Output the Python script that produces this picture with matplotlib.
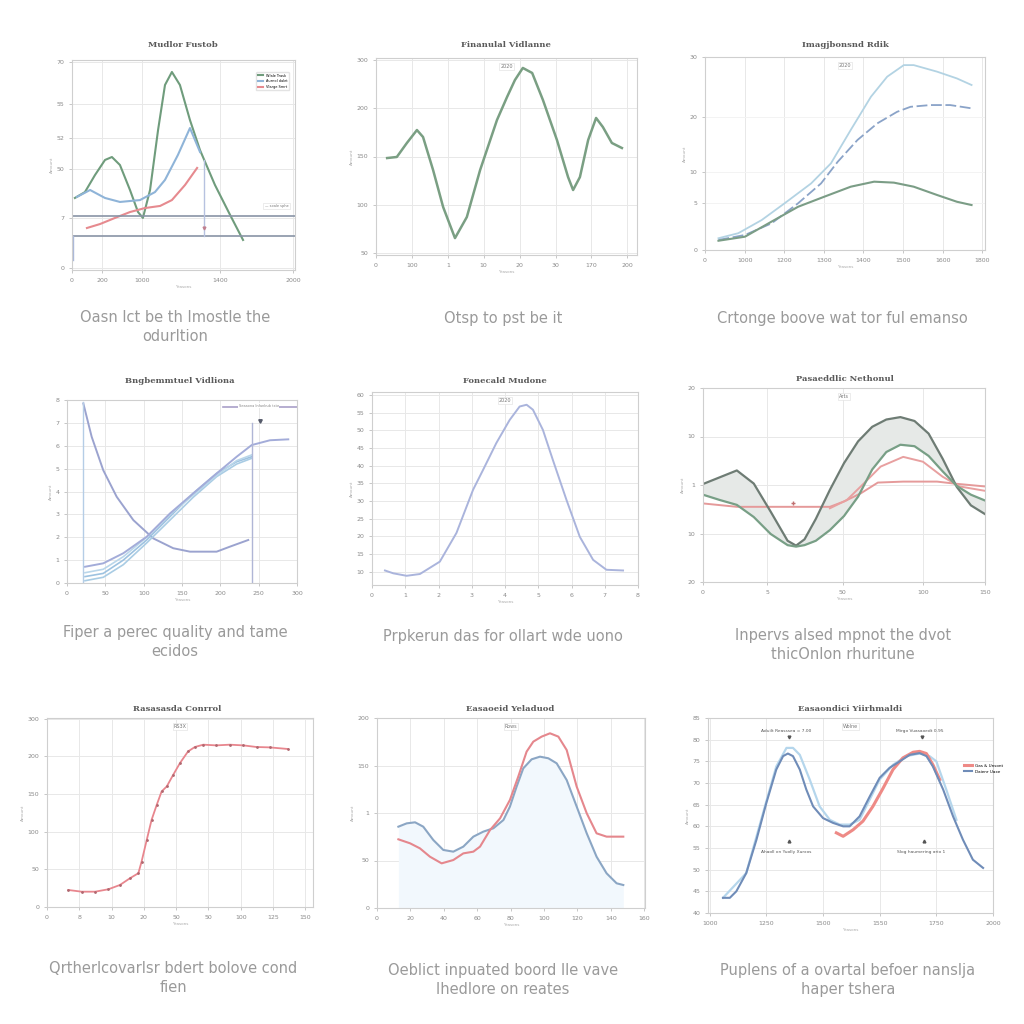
import matplotlib.pyplot as plt
import numpy as np

# ---------- data ----------
# panel 1
p1_green_x = [1.3, 5.8, 10.3, 14.8, 17.9, 21.5, 26.0, 29.6, 31.8, 35.0, 38.6, 41.7, 44.8, 48.4, 52.9, 57.4, 64.1, 70.9, 76.7]
p1_green_y = [34.3, 37.1, 45.2, 52.4, 53.8, 50.0, 38.1, 27.6, 24.8, 38.1, 66.7, 88.1, 94.3, 88.1, 71.4, 57.1, 40.5, 26.2, 14.3]
p1_blue_x = [2.2, 8.1, 14.8, 21.5, 30.5, 37.2, 41.7, 47.5, 52.9, 57.4]
p1_blue_y = [34.8, 38.1, 34.3, 32.4, 33.3, 37.1, 42.9, 54.8, 67.6, 56.2]
p1_red_x = [6.7, 12.6, 19.3, 26.0, 32.7, 39.5, 44.8, 50.7, 56.1]
p1_red_y = [20.0, 21.9, 24.8, 27.6, 29.5, 30.5, 33.3, 40.5, 48.6]
p1_hlines = [25.7, 16.2]
p1_yticks = [1, 25, 48, 63, 79, 99]
p1_ylabels = ['0', '7', '50', '52', '55', '70']
p1_xticks = [0, 13.5, 31.4, 66.4, 99.1]
p1_xlabels = ['0', '200', '1000', '1400', '2000']

# panel 2
p2_x = [0.31, 0.58, 0.86, 1.14, 1.31, 1.59, 1.87, 2.20, 2.53, 2.90, 3.37, 3.65, 3.87, 4.09, 4.35, 4.65,
        5.04, 5.35, 5.49, 5.68, 5.91, 6.13, 6.32, 6.57, 6.85]
p2_y = [148.4, 149.5, 164.0, 177.4, 170.2, 136.0, 97.7, 65.5, 87.3, 136.0, 187.8, 211.6, 229.2, 241.7, 236.5,
        208.5, 167.1, 128.7, 115.3, 128.7, 167.1, 189.9, 180.5, 164.0, 158.8]
p2_xlabels = ['0', '100', '1', '10', '20', '30', '170', '200']
p2_ylabels = ['50', '100', '150', '200', '300']

# panel 3
p3_top_x = [0.34, 0.84, 1.43, 2.01, 2.68, 3.18, 3.68, 4.19, 4.60, 5.02, 5.27, 5.86, 6.36, 6.73]
p3_top_y = [6.1, 8.7, 15.5, 24.2, 34.5, 44.9, 62.2, 79.4, 89.8, 95.8, 95.8, 92.4, 88.9, 85.5]
p3_mid_x = [0.34, 1.01, 1.68, 2.35, 2.93, 3.35, 3.85, 4.35, 4.85, 5.19, 5.69, 6.19, 6.73]
p3_mid_y = [5.2, 7.8, 13.8, 24.2, 34.5, 45.7, 57.0, 65.6, 71.6, 74.2, 75.1, 75.1, 73.4]
p3_low_x = [0.34, 1.01, 1.68, 2.35, 3.01, 3.68, 4.27, 4.77, 5.27, 5.86, 6.36, 6.73]
p3_low_y = [4.8, 6.9, 14.7, 22.4, 27.6, 32.8, 35.4, 34.9, 32.8, 28.5, 25.0, 23.3]
p3_yticks = [0, 24.4, 40.4, 68.9, 100]
p3_ylabels = ['0', '5', '10', '20', '30']
p3_xlabels = ['0', '1000', '1200', '1300', '1400', '1500', '1600', '1800']

# panel 4
p4_decay_x = [21.3, 32.2, 47.3, 64.8, 86.5, 112.5, 138.6, 160.4, 195.2, 212.6, 236.4]
p4_decay_y = [7.85, 6.39, 4.93, 3.77, 2.75, 1.95, 1.52, 1.37, 1.37, 1.59, 1.88]
p4_rise_x = [23.5, 47.3, 73.4, 103.9, 134.3, 164.7, 195.2, 221.3, 240.9, 264.7, 288.6]
p4_rise_a = [0.71, 0.86, 1.30, 2.02, 3.04, 3.92, 4.79, 5.52, 6.03, 6.24, 6.28]
p4_rise_b = [0.28, 0.42, 1.00, 1.88, 2.90, 3.92, 4.79, 5.30, 5.52]
p4_rise_c = [0.10, 0.25, 0.80, 1.75, 2.75, 3.75, 4.65, 5.20, 5.45]
p4_rise_d = [0.45, 0.60, 1.15, 2.00, 3.00, 3.85, 4.70, 5.35, 5.60]

# panel 5
p5_x = [0.39, 0.64, 1.04, 1.44, 2.04, 2.54, 3.04, 3.34, 3.74, 4.14, 4.44, 4.65, 4.84, 5.14, 5.44, 5.85,
        6.25, 6.65, 7.05, 7.55]
p5_y = [10.4, 9.6, 8.9, 9.4, 12.9, 21.0, 33.2, 38.8, 46.4, 52.9, 56.7, 57.2, 55.8, 50.1, 41.6, 30.3,
        19.9, 13.4, 10.6, 10.4]

# panel 6
p6_x = [0, 6, 12, 18, 24, 30, 33, 36, 40, 45, 50, 55, 60, 65, 70, 75, 80, 85, 90, 95, 100]
p6_upper = [0.2, 1.6, 3.0, 0.3, -5.5, -11.5, -12.5, -11.2, -7.0, -1.0, 4.5, 9.0, 12.0, 13.5, 14.0, 13.2,
            10.6, 5.4, -0.4, -4.2, -6.0]
p6_lower = [-2.0, -3.1, -4.1, -6.6, -10.1, -12.4, -12.7, -12.4, -11.5, -9.3, -6.4, -2.4, 3.2, 6.8, 8.3, 8.0,
            6.0, 2.8, -0.2, -2.0, -3.2]
p6_flat_x = [0, 12, 24, 36, 45, 50, 56, 62, 71, 83, 89, 100]
p6_flat_y = [-3.8, -4.5, -4.5, -4.5, -4.5, -3.4, -1.7, 0.5, 0.7, 0.7, 0.3, -0.3]
p6_arc_x = [45, 51, 57, 63, 71, 78, 85, 91, 100]
p6_arc_y = [-4.8, -3.1, 0.3, 3.8, 5.8, 4.8, 1.7, -0.3, -1.2]
p6_xticks = [0, 22.7, 49.6, 78, 100]
p6_xlabels = ['0', '5', '50', '100', '150']

# panel 7
p7_x = [0.66, 1.07, 1.49, 1.90, 2.26, 2.57, 2.83, 2.93, 3.09, 3.24, 3.40, 3.55, 3.71, 3.91, 4.12, 4.37,
        4.58, 4.84, 5.25, 5.66, 6.08, 6.49, 6.90, 7.47]
p7_y = [27.1, 24.4, 24.4, 28.2, 35.1, 45.8, 53.8, 72.3, 106.9, 138.8, 162.8, 184.0, 192.0, 210.6, 229.3,
        247.8, 254.8, 258.5, 257.4, 258.5, 257.4, 254.8, 254.2, 251.6]
p7_xlabels = ['0', '8', '10', '20', '50', '50', '100', '125', '150']
p7_ylabels = ['0', '50', '100', '150', '200', '300']

# panel 8
p8_blue_x = [12.8, 17.8, 22.8, 27.7, 33.7, 39.7, 45.7, 51.7, 57.7, 63.7, 69.7, 75.7, 79.6, 83.6, 87.6, 92.6,
             97.6, 102.6, 107.6, 113.6, 119.6, 125.6, 131.5, 137.5, 143.5, 147.5]
p8_blue_y = [85.6, 89.1, 90.2, 85.6, 71.6, 61.1, 59.3, 64.6, 75.1, 80.4, 83.9, 92.6, 106.7, 127.7, 147.0,
             156.5, 159.3, 157.6, 152.3, 134.7, 106.7, 78.6, 54.0, 36.5, 26.0, 24.2]
p8_red_x = [12.8, 19.8, 25.7, 31.7, 38.7, 45.7, 51.7, 57.7, 61.7, 67.7, 73.7, 79.6, 84.6, 89.6, 93.6, 98.6,
            103.6, 108.6, 113.6, 119.6, 125.6, 131.5, 137.5, 147.5]
p8_red_y = [72.3, 68.1, 62.8, 54.0, 47.0, 50.5, 57.5, 59.3, 64.6, 82.1, 94.4, 113.7, 138.3, 164.6, 175.1,
            180.4, 183.9, 180.4, 166.3, 127.7, 99.7, 78.6, 75.1, 75.1]
p8_ylabels = ['0', '50', '1', '150', '200']

# panel 9
p9_blue_x = [1047, 1071, 1094, 1129, 1165, 1200, 1235, 1259, 1276, 1294, 1318, 1341, 1365, 1400, 1435, 1471,
             1494, 1529, 1565, 1600, 1635, 1671, 1706, 1741, 1765, 1788, 1824, 1859, 1894, 1929, 1965]
p9_blue_y = [43.5, 43.5, 45.0, 49.2, 56.9, 65.4, 73.1, 76.2, 76.8, 76.2, 73.1, 68.5, 64.6, 61.9, 60.8, 60.0,
             60.0, 62.3, 66.9, 71.2, 73.5, 75.0, 76.5, 76.9, 76.2, 73.8, 68.5, 62.3, 56.9, 52.3, 50.4]
p9_light_x = [1047, 1129, 1200, 1235, 1271, 1294, 1318, 1353, 1388, 1424, 1459, 1494, 1529, 1565, 1600, 1647,
              1694, 1741, 1776, 1800, 1835, 1871]
p9_light_y = [43.5, 49.2, 65.8, 73.8, 78.1, 78.1, 76.5, 70.8, 64.6, 61.5, 60.4, 60.4, 61.5, 66.2, 70.8, 74.2,
              76.2, 76.8, 76.2, 75.0, 68.5, 61.5]
p9_red_x = [1447, 1471, 1506, 1541, 1576, 1612, 1647, 1682, 1718, 1741, 1765, 1788, 1812]
p9_red_y = [58.5, 57.7, 59.2, 61.2, 64.6, 68.8, 73.1, 75.8, 77.1, 77.3, 76.8, 74.2, 70.8]

titles = ['Mudlor Fustob', 'Finanulal Vidlanne', 'Imagjbonsnd Rdik',
          'Bngbemmtuel Vidliona', 'Fonecald Mudone', 'Pasaeddlic Nethonul',
          'Rasasasda Conrrol', 'Easaoeid Yeladuod', 'Easaondici Yiirhmaldi']
captions = ['Oasn lct be th Imostle the\nodurltion', 'Otsp to pst be it',
            'Crtonge boove wat tor ful emanso',
            'Fiper a perec quality and tame\necidos', 'Prpkerun das for ollart wde uono',
            'Inpervs alsed mpnot the dvot\nthicOnlon rhuritune',
            'Qrtherlcovarlsr bdert bolove cond\nfien', 'Oeblict inpuated boord lle vave\nIhedlore on reates',
            'Puplens of a ovartal befoer nanslja\nhaper tshera']

# ---------- layout ----------
fig = plt.figure(figsize=(10.24, 10.24), dpi=100)
fig.patch.set_facecolor('white')


def box(x0, y0, x1, y1):
    return [x0 / 1024, 1 - y1 / 1024, (x1 - x0) / 1024, (y1 - y0) / 1024]


def style(ax):
    for s in ax.spines.values():
        s.set_color('#cfcfcf')
        s.set_linewidth(0.8)
    ax.grid(True, color='#e8e8e8', linewidth=0.7)
    ax.set_axisbelow(True)
    ax.tick_params(labelsize=4.5, colors='#b0b0b0', labelcolor='#8a8a8a', length=2, width=0.5)
    ax.set_xlabel('Yeasons', fontsize=3, color='#aaaaaa', labelpad=2)
    ax.set_ylabel('Amount', fontsize=3, color='#aaaaaa', labelpad=2)


def stamp(ax, label='2020'):
    ax.text(0.5, 0.97, label, transform=ax.transAxes, ha='center', va='top', fontsize=3.5,
            color='#777777', bbox=dict(boxstyle='square,pad=0.2', fc='white', ec='#dddddd', lw=0.4))


boxes = [box(72, 60, 295, 270), box(376, 58, 637, 255), box(705, 57, 985, 250),
         box(67, 400, 297, 583), box(372, 392, 638, 585), box(703, 388, 985, 582),
         box(47, 718, 313, 907), box(377, 718, 645, 908), box(708, 718, 993, 913)]
title_pos = [(183, 45), (506, 45), (845, 45), (180, 381), (505, 381), (845, 379),
             (177, 709), (510, 709), (850, 709)]
caption_pos = [(175, 327), (503, 318), (842, 318), (175, 642), (503, 636), (843, 645),
               (173, 978), (503, 980), (848, 980)]

axes = [fig.add_axes(b) for b in boxes]
for ax in axes:
    style(ax)
for i in range(9):
    fig.text(title_pos[i][0] / 1024, 1 - title_pos[i][1] / 1024, titles[i], ha='center', va='center',
             fontsize=6, family='DejaVu Serif', fontweight='bold', color='#5a5a5a')
    fig.text(caption_pos[i][0] / 1024, 1 - caption_pos[i][1] / 1024, captions[i], ha='center', va='center',
             fontsize=10.5, color='#9a9a9a', linespacing=1.3)

green = '#6f9c7c'
red = '#e68a8f'

# panel 1
ax = axes[0]
ax.plot(p1_green_x, p1_green_y, color=green, lw=1.5, label='Wlale Trask')
ax.plot(p1_blue_x, p1_blue_y, color='#8fb4d8', lw=1.5, label='Aurnol dalet')
ax.plot(p1_red_x, p1_red_y, color=red, lw=1.5, label='Vlarge Smrt')
for h in p1_hlines:
    ax.axhline(h, color='#8994a6', lw=1.2)
ax.plot([59.2, 59.2], [52.4, 16.2], color='#b7c2e0', lw=1)
ax.plot([59.2], [20], marker='v', color='#c08090', ms=2)
ax.plot([0.5, 0.5], [16.2, 5], color='#aab8da', lw=1)
ax.set_xlim(0, 100)
ax.set_ylim(0, 100)
ax.set_xticks(p1_xticks, p1_xlabels)
ax.set_yticks(p1_yticks, p1_ylabels)
ax.legend(loc='upper right', fontsize=2.5, frameon=True, edgecolor='#dddddd', handlelength=1.5,
          bbox_to_anchor=(0.98, 0.95))
ax.text(0.97, 0.30, '— soale sphe', transform=ax.transAxes, ha='right', fontsize=2.5, color='#777777',
        bbox=dict(boxstyle='square,pad=0.4', fc='white', ec='#dddddd', lw=0.4))

# panel 2
ax = axes[1]
ax.plot(p2_x, p2_y, color='#7a9f83', lw=1.8)
ax.set_xlim(0, 7.27)
ax.set_ylim(48, 252)
ax.set_xticks(range(8), p2_xlabels)
ax.set_yticks([50, 100, 150, 200, 250], p2_ylabels)
stamp(ax)

# panel 3
ax = axes[2]
ax.plot(p3_top_x, p3_top_y, color='#b3d3e3', lw=1.3)
ax.plot(p3_mid_x, p3_mid_y, color='#8aa3c8', lw=1.3, ls=(0, (6, 2)))
ax.plot(p3_low_x, p3_low_y, color='#7b9d86', lw=1.5)
ax.set_xlim(0.05, 7.07)
ax.set_ylim(0, 100)
ax.set_xticks(range(8), p3_xlabels)
ax.set_yticks(p3_yticks, p3_ylabels)
ax.grid(True, axis='y', color='#f3f3f3')
stamp(ax)

# panel 4
ax = axes[3]
ax.plot(p4_decay_x, p4_decay_y, color='#9ba3cf', lw=1.4)
ax.plot(p4_rise_x[:len(p4_rise_c)], p4_rise_c, color='#a9cce4', lw=1.2)
ax.plot(p4_rise_x[:len(p4_rise_b)], p4_rise_b, color='#9dc2e0', lw=1.2)
ax.plot(p4_rise_x[:len(p4_rise_d)], p4_rise_d, color='#b9d6ea', lw=1.2)
ax.plot(p4_rise_x, p4_rise_a, color='#a3acd9', lw=1.4)
ax.plot([20.9, 20.9], [0, 7.9], color='#b5cde6', lw=1)
ax.plot([241.2, 241.2], [0, 7.0], color='#b0b6d6', lw=1)
ax.plot([203, 300], [7.7, 7.7], color='#a9a0c8', lw=1.2)
ax.text(250, 7.75, 'Seaaona Infanbub tste', ha='center', va='center', fontsize=2.5, color='#888888',
        bbox=dict(fc='white', ec='none', pad=0.3))
ax.plot([252], [7.1], marker='v', color='#555a6a', ms=2.5)
ax.set_xlim(0, 300)
ax.set_ylim(0, 8)
ax.set_xticks(range(0, 301, 50))
ax.set_yticks(range(9))

# panel 5
ax = axes[4]
ax.plot(p5_x, p5_y, color='#aab4dc', lw=1.4)
ax.set_xlim(0, 8)
ax.set_ylim(6.3, 60.8)
ax.set_xticks(range(9), ['0', '1', '2', '3', '4', '5', '6', '7', '8'])
ax.set_yticks(range(10, 61, 5))
stamp(ax, '2020')

# panel 6
ax = axes[5]
ax.fill_between(p6_x, p6_lower, p6_upper, color='#e6e9e7', lw=0)
ax.plot(p6_flat_x, p6_flat_y, color='#e59a9a', lw=1.4)
ax.plot(p6_arc_x, p6_arc_y, color='#e8a0a0', lw=1.4)
ax.plot(p6_x, p6_upper, color='#6e7c74', lw=1.6)
ax.plot(p6_x, p6_lower, color='#789f86', lw=1.6)
ax.plot([32], [-3.8], marker='+', color='#c07070', ms=3)
ax.set_xlim(0, 100)
ax.set_ylim(-20, 20)
ax.set_xticks(p6_xticks, p6_xlabels)
ax.set_yticks([-20, -10, 0, 10, 20], ['20', '10', '1', '10', '20'])
stamp(ax, 'Arts')

# panel 7
ax = axes[6]
ax.plot(p7_x, p7_y, color='#e8868e', lw=1.3, marker='.', ms=2, mfc='#b06870', mec='#b06870')
ax.set_xlim(0, 8.24)
ax.set_ylim(0, 301)
ax.set_xticks(range(9), p7_xlabels)
ax.set_yticks([0, 60, 120, 180, 240, 300], p7_ylabels)
stamp(ax, 'RS3X')

# panel 8
ax = axes[7]
ax.fill_between(p8_blue_x, 0, p8_blue_y, color='#f2f8fd', lw=0)
ax.plot(p8_blue_x, p8_blue_y, color='#8ba6c4', lw=1.5)
ax.plot(p8_red_x, p8_red_y, color='#e5878d', lw=1.5)
ax.set_xlim(0, 160.5)
ax.set_ylim(0, 200)
ax.set_xticks(range(0, 161, 20))
ax.set_yticks([0, 50, 100, 150, 200], p8_ylabels)
stamp(ax, 'Rows')

# panel 9
ax = axes[8]
ax.plot(p9_light_x, p9_light_y, color='#b5d6ec', lw=1.6)
ax.plot(p9_red_x, p9_red_y, color='#ee8a86', lw=2.2, label='Gas & Unsont')
ax.plot(p9_blue_x, p9_blue_y, color='#6f8cb8', lw=1.5, label='Daienr Uaxe')
ax.set_xlim(994, 2000)
ax.set_ylim(40, 85)
ax.set_xticks(range(1000, 2001, 200), ['1000', '1250', '1500', '1550', '1750', '2000'])
ax.set_yticks(range(40, 86, 5))
ax.legend(loc='center right', fontsize=3, frameon=False, bbox_to_anchor=(1.05, 0.74), handlelength=2)
for (xx, yy, txt, mk) in [(1270, 80.5, 'Aduilt Reasssea = 7.00', 'v'), (1740, 80.5, 'Mirgo Vuasaoedt 0.95', 'v'),
                          (1270, 55.5, 'Ahaoll on Yuolly Xurxos', '^'), (1745, 55.5, 'Slog haumering ario 1', '^')]:
    ax.text(xx, yy + 1.5 if mk == 'v' else yy - 1.5, txt, ha='center', va='center', fontsize=3.2, color='#555555')
    ax.plot([xx + 10], [yy if mk == 'v' else yy + 1], marker=mk, color='#555555', ms=2)
stamp(ax, 'Wolne')

fig.savefig('out.png', dpi=100, facecolor='white')
